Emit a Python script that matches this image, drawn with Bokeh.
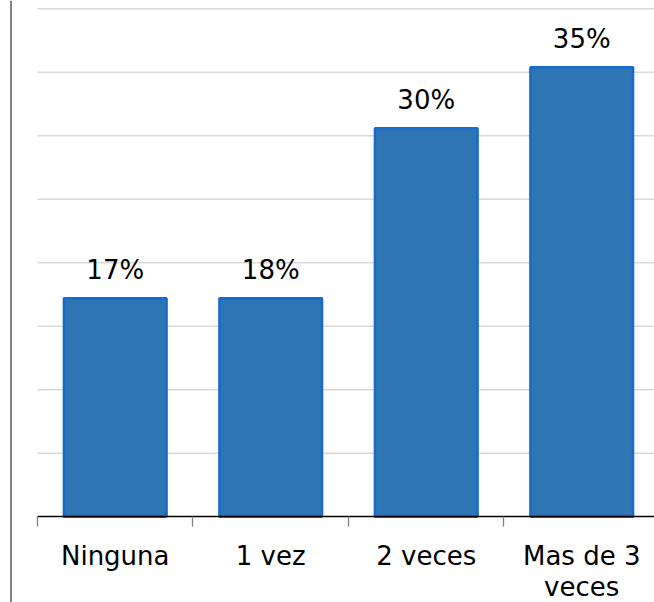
from bokeh.plotting import figure
from bokeh.models import Range1d, FixedTicker, ColumnDataSource, Span
from bokeh.core.properties import value
from bokeh.embed import file_html
from bokeh.resources import INLINE

# ---- data ----
categories = ["Ninguna", "1 vez", "2 veces", "Mas de 3\nveces"]
values = [17.2, 17.2, 30.6, 35.4]
value_labels = ["17%", "18%", "30%", "35%"]
grid_ticks = [5, 10, 15, 20, 25, 30, 35, 40]

FONT = "DejaVu Sans"
x_pos = list(range(len(categories)))
X_START, X_END = -0.7379, 3.468

p = figure(width=654, height=602, output_backend="svg", toolbar_location=None,
           x_range=Range1d(X_START, X_END), y_range=Range1d(-6.75, 40.65),
           min_border_left=0, min_border_right=0, min_border_top=0, min_border_bottom=0)
p.background_fill_color = "white"
p.border_fill_color = "white"
p.outline_line_color = None
p.xgrid.visible = False
p.ygrid.visible = False
p.yaxis.visible = False

# left border line
p.add_layout(Span(location=-0.6704, dimension="height",
                  line_color="#404040", line_width=1.3))

# horizontal gridlines starting at the category area
p.segment(x0=[-0.5] * len(grid_ticks), x1=[X_END] * len(grid_ticks),
          y0=grid_ticks, y1=grid_ticks, line_color="#D9D9D9", line_width=1.3)

src = ColumnDataSource(dict(x=x_pos, top=values, lab=value_labels))
p.vbar(x="x", top="top", bottom=0, width=0.66, source=src,
       fill_color="#3075B3", line_color="#156BCE", line_width=2.5)

p.text(x="x", y="top", text="lab", source=src, text_align="center",
       text_baseline="alphabetic", y_offset=-28,
       text_font=value(FONT), text_font_size="26px", text_color="#000000")

ax = p.xaxis[0]
ax.fixed_location = 0
ax.bounds = (-0.5, 3.5)
ax.ticker = FixedTicker(ticks=x_pos, minor_ticks=[-0.5, 0.5, 1.5, 2.5, 3.5])
ax.major_label_overrides = {i: c for i, c in zip(x_pos, categories)}
ax.axis_line_color = "#000000"
ax.axis_line_width = 1.3
ax.major_tick_line_color = None
ax.major_tick_in = 0
ax.major_tick_out = 0
ax.minor_tick_in = 0
ax.minor_tick_out = 10
ax.minor_tick_line_color = "#808080"
ax.minor_tick_line_width = 1.3
ax.major_label_standoff = 14
ax.major_label_text_font = FONT
ax.major_label_text_font_size = "26px"
ax.major_label_text_line_height = 1.05
ax.major_label_text_color = "#000000"

open("out.html", "w").write(file_html(p, INLINE))
